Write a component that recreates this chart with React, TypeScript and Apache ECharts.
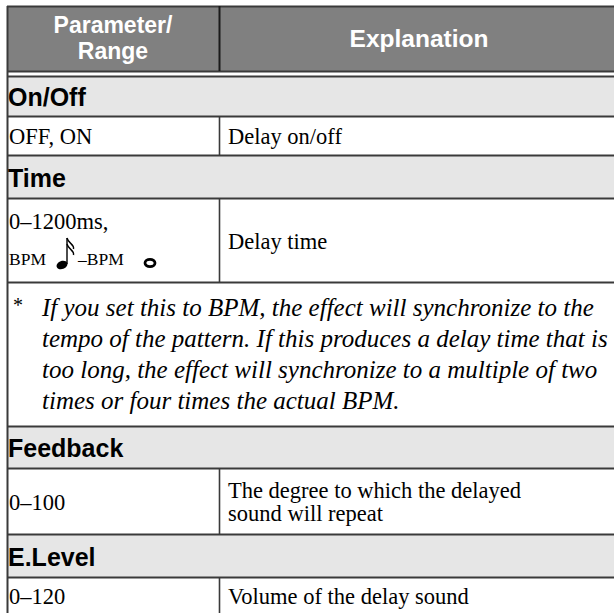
import React, { useEffect, useRef } from "react";
import * as echarts from "echarts";

const headerLabels = ["Parameter/\nRange", "Explanation"];
const sectionNames = ["On/Off", "Time", "Feedback", "E.Level"];
const rangeValues = ["OFF, ON", "0–1200ms,", "0–100", "0–120"];
const explanations = [
  "Delay on/off",
  "Delay time",
  "The degree to which the delayed\nsound will repeat",
  "Volume of the delay sound",
];
const bpmParts = ["BPM", "–BPM"];
const noteMark = "*";
const noteLines = [
  "If you set this to BPM, the effect will synchronize to the",
  "tempo of the pattern. If this produces a delay time that is",
  "too long, the effect will synchronize to a multiple of two",
  "times or four times the actual BPM.",
];

const SANS = "'Liberation Sans', Arial, sans-serif";
const SERIF = "'Liberation Serif', 'Times New Roman', serif";
const LINE = "#3a3a3a";

function txt(text: string, x: number, y: number, o: any = {}) {
  const align = o.align || "left";
  return {
    type: "text",
    x,
    y,
    silent: true,
    style: {
      text,
      fill: o.fill || "#000",
      fontSize: o.fontSize || 22.5,
      fontFamily: o.fontFamily || SERIF,
      fontWeight: o.fontWeight || "normal",
      fontStyle: o.fontStyle || "normal",
      lineHeight: o.lineHeight,
      align,
      textAlign: align,
      verticalAlign: "middle",
      textVerticalAlign: "middle",
    },
  };
}

function hline(y: number, x1: number, x2: number, w = 2) {
  return { type: "line", silent: true, shape: { x1, y1: y, x2, y2: y }, style: { stroke: LINE, lineWidth: w } };
}
function vline(x: number, y1: number, y2: number, w = 2, c = LINE) {
  return { type: "line", silent: true, shape: { x1: x, y1, x2: x, y2 }, style: { stroke: c, lineWidth: w } };
}

function buildElements() {
  const L = 7;
  const D = 219;
  const R = 640;
  const headTop = 6;
  const headBot = 71;
  const bands = [
    [76, 116],
    [155, 198],
    [426, 468],
    [534, 577],
  ];
  const rowBottoms = [155, 282, 534, 640];
  const noteBottom = 426;
  const els: any[] = [];

  els.push({ type: "rect", silent: true, shape: { x: L, y: headTop, width: R - L, height: headBot - headTop }, style: { fill: "#808080" } });
  bands.forEach(([a, b]) => {
    els.push({ type: "rect", silent: true, shape: { x: L, y: a, width: R - L, height: b - a }, style: { fill: "#e6e6e6" } });
  });

  // horizontal rules
  const ys = [headTop + 0.5, headBot + 0.5];
  bands.forEach(([a, b]) => ys.push(a + 0.5, b + 0.5));
  ys.push(282.5);
  ys.forEach((y) => els.push(hline(y, L, R, 2)));

  // left border
  els.push(vline(L + 0.5, headTop, 640, 2));
  // column divider
  els.push(vline(D + 0.5, headTop, headBot, 2, "#1a1a1a"));
  els.push(vline(D + 0.5, bands[0][1], rowBottoms[0], 1.6));
  els.push(vline(D + 0.5, bands[1][1], rowBottoms[1], 1.6));
  els.push(vline(D + 0.5, bands[2][1], rowBottoms[2], 1.6));
  els.push(vline(D + 0.5, bands[3][1], rowBottoms[3], 1.6));

  // header texts
  els.push(txt(headerLabels[0], 113, 38, { align: "center", fill: "#fff", fontFamily: SANS, fontWeight: "bold", fontSize: 23, lineHeight: 26 }));
  els.push(txt(headerLabels[1], 419, 38, { align: "center", fill: "#fff", fontFamily: SANS, fontWeight: "bold", fontSize: 24.5 }));

  // section band titles
  bands.forEach(([a, b], i) => {
    els.push(txt(sectionNames[i], 8, (a + b) / 2 + 1, { fontFamily: SANS, fontWeight: "bold", fontSize: 25 }));
  });

  // rows
  const rowTops = bands.map((b) => b[1]);
  // row 0
  els.push(txt(rangeValues[0], 9, (rowTops[0] + rowBottoms[0]) / 2 + 1));
  els.push(txt(explanations[0], 228, (rowTops[0] + rowBottoms[0]) / 2 + 1));
  // row 1 (time)
  const tMid = (rowTops[1] + rowBottoms[1]) / 2;
  els.push(txt(rangeValues[1], 9, tMid - 19));
  els.push(txt(bpmParts[0], 9, tMid + 19, { fontSize: 17.5 }));
  els.push(txt(bpmParts[1], 78, tMid + 19, { fontSize: 17.5 }));
  els.push(txt(explanations[1], 228, tMid + 1));
  // sixteenth note
  const hx = 62;
  const hy = tMid + 25;
  els.push({ type: "ellipse", silent: true, rotation: 0.35, x: hx, y: hy, shape: { cx: 0, cy: 0, rx: 5.6, ry: 4 }, style: { fill: "#000" } });
  els.push(vline(hx + 5, hy - 1, hy - 27, 1.4, "#000"));
  els.push({ type: "bezierCurve", silent: true, shape: { x1: hx + 5, y1: hy - 27, x2: hx + 11.5, y2: hy - 16, cpx1: hx + 6.5, cpy1: hy - 21, cpx2: hx + 12.5, cpy2: hy - 21 }, style: { stroke: "#000", lineWidth: 1.4, fill: "none" } });
  els.push({ type: "bezierCurve", silent: true, shape: { x1: hx + 5, y1: hy - 21, x2: hx + 11.5, y2: hy - 10, cpx1: hx + 6.5, cpy1: hy - 15, cpx2: hx + 12.5, cpy2: hy - 15 }, style: { stroke: "#000", lineWidth: 1.4, fill: "none" } });
  // whole note
  els.push({ type: "ellipse", silent: true, x: 150, y: tMid + 23, shape: { cx: 0, cy: 0, rx: 5, ry: 3.6 }, style: { fill: "none", stroke: "#000", lineWidth: 2.8 } });

  // note row
  const nTop = rowBottoms[1];
  const nMid = (nTop + noteBottom) / 2;
  const lh = 31;
  const firstY = nMid - (lh * (noteLines.length - 1)) / 2;
  els.push(txt(noteMark, 13, firstY - 3, { fontSize: 20 }));
  noteLines.forEach((ln, i) => {
    els.push(txt(ln, 42, firstY + i * lh, { fontStyle: "italic", fontSize: 25 }));
  });

  // row 2 (feedback)
  const fMid = (rowTops[2] + rowBottoms[2]) / 2;
  els.push(txt(rangeValues[2], 9, fMid + 1));
  els.push(txt(explanations[2], 228, fMid + 1, { lineHeight: 23 }));

  // row 3 (e.level)
  els.push(txt(rangeValues[3], 9, 596));
  els.push(txt(explanations[3], 228, 596));

  return els;
}

export default function App() {
  const ref = useRef<HTMLDivElement>(null);
  useEffect(() => {
    if (!ref.current) return;
    const chart = echarts.init(ref.current, null, { renderer: "svg" });
    chart.setOption({
      animation: false,
      backgroundColor: "#ffffff",
      graphic: { elements: buildElements() },
    });
    return () => chart.dispose();
  }, []);
  return (
    <div
      ref={ref}
      style={{ position: "fixed", left: 0, top: 0, width: 614, height: 613, background: "#fff" }}
    />
  );
}
